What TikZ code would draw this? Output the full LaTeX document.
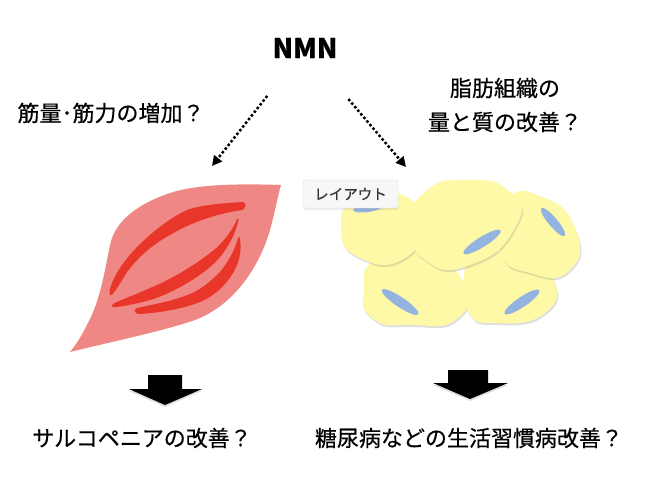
\documentclass[tikz,border=0pt]{standalone}
\usepackage{fontspec}
\setmainfont{Noto Sans CJK JP}[FakeBold=0.5]
\usepackage{tikz}
\usetikzlibrary{arrows.meta, shadows, shapes.geometric, positioning}

\definecolor{muscleLight}{HTML}{EF8884}
\definecolor{muscleDark}{HTML}{E8372A}
\definecolor{fatYellow}{HTML}{FDF9A7}
\definecolor{nucleusBlue}{HTML}{93B3E0}

\begin{document}
\begin{tikzpicture}[
        x=1pt, y=-1pt,
        every node/.style = {
            inner sep=0pt,
            font=\fontsize{22}{34}\selectfont
        },
        cell/.style = {
            fill=fatYellow,
            drop shadow={opacity=0.25, shadow xshift=1pt, shadow yshift=-2pt}
        },
        nucleus/.style = {
            ellipse,
            fill=nucleusBlue,
            minimum height=10pt
        },
        dotarrow/.style = {
            line width=2.5pt,
            dash pattern=on 2.5pt off 2.2pt,
            -{Triangle[length=10pt, width=10pt]}
        },
        blockarrow/.style = {
            fill=black,
            drop shadow={opacity=0.25, shadow xshift=0pt, shadow yshift=-2pt}
        }]
        \useasboundingbox (0,0) rectangle (650,492);

        % texts
        \node[font=\fontsize{27}{30}\bfseries\selectfont] (nmn) at (305,48) {NMN};
        \node (muscleGain) at (111,113) {筋量･筋力の増加？};
        \node[align=center] (fatQuality) at (505,105) {脂肪組織の\\量と質の改善？};
        \node (sarco) at (142,438) {サルコペニアの改善？};
        \node (lifestyle) at (469,438) {糖尿病などの生活習慣病改善？};

        % muscle
        \fill[muscleLight] (281,185) .. controls (250,184) and (200,183) .. (170,193)
            .. controls (140,203) and (115,220) .. (110,245)
            .. controls (104,275) and (100,300) .. (88,323)
            .. controls (82,335) and (76,345) .. (70,352)
            .. controls (110,342) and (160,332) .. (195,320)
            .. controls (235,305) and (260,265) .. (270,230)
            .. controls (275,212) and (278,195) .. (281,185) -- cycle;
        \fill[muscleDark] (243,202) .. controls (225,203) and (200,205) .. (187,210)
            .. controls (165,220) and (135,245) .. (120,268)
            .. controls (112,280) and (108,292) .. (110,295)
            .. controls (112,297) and (118,287) .. (127,272)
            .. controls (140,255) and (155,243) .. (170,235)
            .. controls (190,223) and (215,214) .. (242,210)
            .. controls (246,209) and (247,203) .. (243,202) -- cycle;
        \fill[muscleDark] (237,219) .. controls (234,228) and (222,245) .. (210,253)
            .. controls (195,265) and (170,280) .. (150,288)
            .. controls (135,295) and (120,300) .. (113,304)
            .. controls (111,306) and (112,308) .. (117,307)
            .. controls (130,305) and (140,303) .. (150,300)
            .. controls (168,295) and (195,280) .. (210,267)
            .. controls (225,255) and (235,235) .. (238,222)
            .. controls (239,219) and (238,217) .. (237,219) -- cycle;
        \fill[muscleDark] (238,238) .. controls (235,250) and (228,262) .. (220,272)
            .. controls (210,282) and (200,290) .. (190,294)
            .. controls (170,302) and (150,305) .. (137,308)
            .. controls (133,310) and (134,314) .. (140,314)
            .. controls (155,313) and (180,310) .. (200,302)
            .. controls (215,296) and (230,282) .. (237,265)
            .. controls (241,255) and (241,245) .. (240,240)
            .. controls (240,237) and (239,236) .. (238,238) -- cycle;

        % fat cells
        \fill[cell] plot[smooth cycle, tension=1] coordinates {(364,290) (375,260) (420,253) (462,280) (458,318) (410,325) (372,318)};
        \node[nucleus, minimum width=44pt, rotate=-34] (nucD) at (400,302) {};
        \fill[cell] plot[smooth cycle, tension=1] coordinates {(463,283) (478,258) (525,255) (553,278) (545,313) (495,323) (468,312)};
        \node[nucleus, minimum width=42pt, rotate=34] (nucE) at (522,302) {};
        \fill[cell] plot[smooth cycle, tension=1] coordinates {(341,228) (357,196) (395,192) (420,220) (405,258) (360,258)};
        \node[nucleus, minimum width=30pt, minimum height=8pt, rotate=8] (nucA) at (368,208) {};
        \fill[cell] plot[smooth cycle, tension=1] coordinates {(500,250) (507,202) (540,196) (575,228) (570,270) (530,273)};
        \node[nucleus, minimum width=36pt, minimum height=9pt, rotate=-50] (nucC) at (553,222) {};
        \fill[cell] plot[smooth cycle, tension=1] coordinates {(412,225) (425,192) (465,180) (510,192) (515,228) (470,265) (425,260)};
        \node[nucleus, minimum width=44pt, rotate=32] (nucB) at (482,242) {};

        \node[draw=black!15, fill=black!3, rounded corners=1.5pt, minimum width=95pt, minimum height=28pt,
            font=\fontsize{14.5}{16}\selectfont, text=black!80,
            drop shadow={opacity=0.15, shadow xshift=0pt, shadow yshift=-2pt}] (layoutTip) at (350.5,194) {レイアウト};

        % connectors
        \coordinate (muscleTip) at (212,166);
        \coordinate (fatTip) at (406,167);
        \draw[dotarrow, shorten <=61pt] (nmn.center) -- (muscleTip);
        \draw[dotarrow, shorten <=67pt] (nmn.center) -- (fatTip);

        \fill[blockarrow] (148,375) -- (182,375) -- (182,389) -- (202,389) -- (165,405) -- (129,389) -- (148,389) -- cycle;
        \fill[blockarrow] (448,370) -- (488,370) -- (488,383) -- (508,383) -- (470,399) -- (433,383) -- (448,383) -- cycle;
\end{tikzpicture}
\end{document}
